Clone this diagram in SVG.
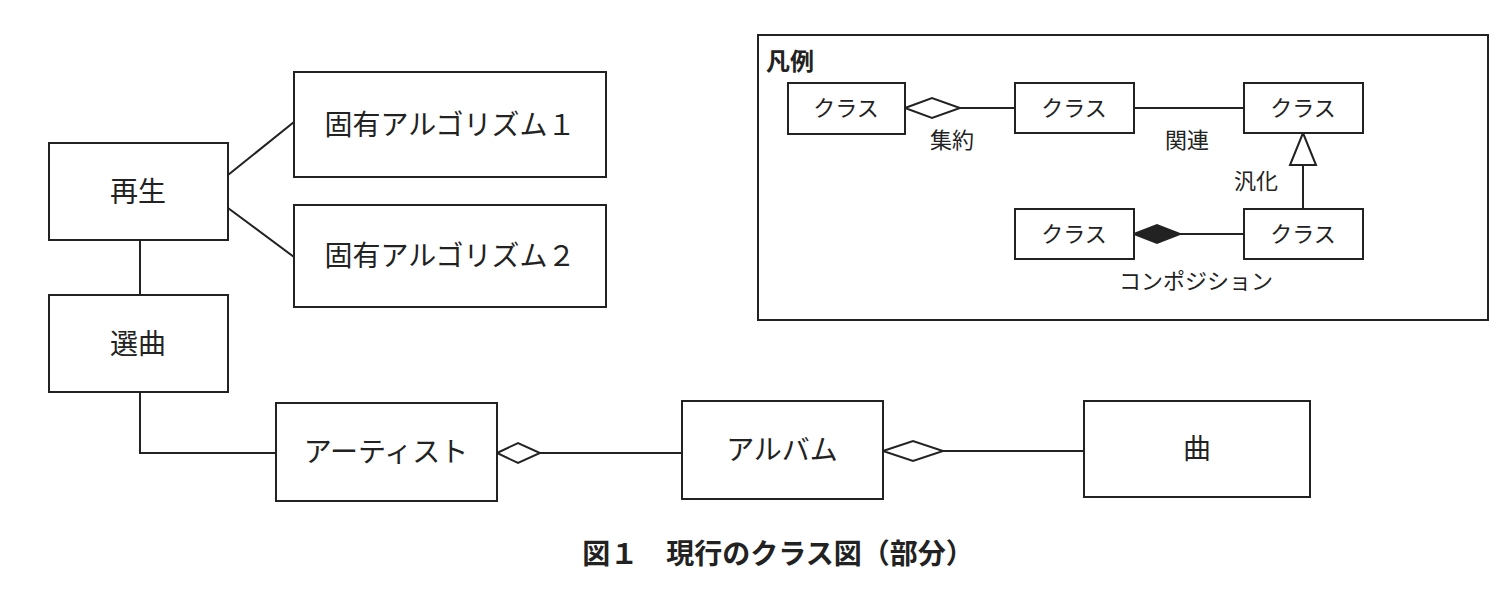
<svg xmlns="http://www.w3.org/2000/svg" width="1506" height="594" viewBox="0 0 1506 594">
<style>
.b{fill:#fff;stroke:#222;stroke-width:2}
.l{fill:none;stroke:#222;stroke-width:2}
.t{font-family:"Liberation Serif","Noto Sans CJK JP",serif;font-size:28px;fill:#222;text-anchor:middle;dominant-baseline:central}
.s{font-family:"Liberation Serif","Noto Sans CJK JP",serif;font-size:22px;fill:#222;text-anchor:middle;dominant-baseline:central}
.c{font-family:"Liberation Sans","Noto Sans CJK JP",sans-serif;font-weight:bold;fill:#222}
</style>
<rect width="1506" height="594" fill="#fff"/>
<g id="connectors">
<path class="l" d="M228 175 L294 122 M228 208 L294 257 M140 240 V295 M140 392 V453 H276 M540 453 H682 M943 451 H1084"/>
<polygon class="b" points="497,453 518,443 540,453 518,463"/>
<polygon class="b" points="883,451 913,441 943,451 913,461"/>
<path class="l" d="M960 108 H1015 M1134 108 H1244 M1303 165 V209 M1180 234 H1244"/>
<polygon class="b" points="905,108 932,98 960,108 932,118"/>
<polygon class="b" points="1303,133 1290,165 1316,165"/>
<polygon fill="#222" stroke="#222" stroke-width="2" points="1134,234 1157,225 1180,234 1157,243"/>
</g>
<g id="n1"><rect class="b" x="49" y="143" width="179" height="97"/><text class="t" x="138" y="192">再生</text></g>
<g id="n2"><rect class="b" x="49" y="295" width="179" height="97"/><text class="t" x="138" y="344">選曲</text></g>
<g id="n3"><rect class="b" x="294" y="72" width="312" height="105"/><text class="t" x="450" y="125">固有アルゴリズム１</text></g>
<g id="n4"><rect class="b" x="294" y="205" width="312" height="102"/><text class="t" x="450" y="256">固有アルゴリズム２</text></g>
<g id="n5"><rect class="b" x="276" y="403" width="221" height="98"/><text class="t" x="386" y="452">アーティスト</text></g>
<g id="n6"><rect class="b" x="682" y="401" width="201" height="98"/><text class="t" x="782" y="450">アルバム</text></g>
<g id="n7"><rect class="b" x="1084" y="401" width="226" height="96"/><text class="t" x="1197" y="449">曲</text></g>
<g id="legend">
<rect class="l" x="758" y="35" width="730" height="285"/>
<text class="c" x="766" y="70" font-size="24">凡例</text>
<rect class="b" x="788" y="83" width="117" height="51"/><text class="s" x="846" y="108">クラス</text>
<rect class="b" x="1015" y="83" width="119" height="50"/><text class="s" x="1074" y="108">クラス</text>
<rect class="b" x="1244" y="83" width="119" height="50"/><text class="s" x="1303" y="108">クラス</text>
<rect class="b" x="1015" y="209" width="119" height="50"/><text class="s" x="1074" y="234">クラス</text>
<rect class="b" x="1244" y="209" width="119" height="50"/><text class="s" x="1303" y="234">クラス</text>
<text class="s" x="952" y="140">集約</text>
<text class="s" x="1187" y="140">関連</text>
<text class="s" x="1256" y="181">汎化</text>
<text class="s" x="1196" y="281">コンポジション</text>
</g>
<text class="c" x="778" y="564" font-size="28" text-anchor="middle">図１　現行のクラス図（部分）</text>
</svg>
